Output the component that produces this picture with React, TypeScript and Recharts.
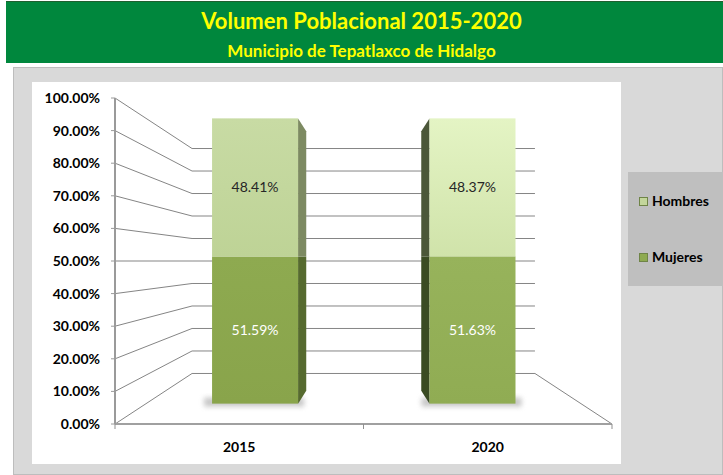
import React from 'react';
import { BarChart, Bar, XAxis, YAxis, CartesianGrid, LabelList, Legend } from 'recharts';

// ---- data ----
const years = ['2015', '2020'];
const mujeres = [0.5159, 0.5163];
const hombres = [0.4841, 0.4837];
const yTicks = [0, 0.1, 0.2, 0.3, 0.4, 0.5, 0.6, 0.7, 0.8, 0.9, 1];
const titleText = 'Volumen Poblacional 2015-2020';
const subtitleText = 'Municipio de Tepatlaxco de Hidalgo';

const data = years.map((y, i) => ({ year: y, Mujeres: mujeres[i], Hombres: hombres[i] }));

// ---- layout / style ----
const W = 723;
const H = 475;
const PLOT = { left: 115, top: 98, right: 612, bottom: 424 };
const VX = (PLOT.left + PLOT.right) / 2;
const VY = (PLOT.top + PLOT.bottom) / 2;
const BACK_K = 0.69;
const BAR_K = 0.875;
const SIDE_KX = 0.875;
const SIDE_KY = 0.91;
const Y_AXIS_W = 80;
const X_AXIS_H = 30;
const BAR_PAD = ((PLOT.right - PLOT.left) * (1 - BAR_K)) / 2;
const barDomain = [0.5 - 0.5 / BAR_K, 0.5 + 0.5 / BAR_K];
const FONT = 'Lato, "Open Sans", sans-serif';

const frontColors: Record<string, [string, string][]> = {
  Hombres: [
    ['#C8DBA4', '#BED396'],
    ['#E4F4C4', '#D0E3AA'],
  ],
  Mujeres: [
    ['#8EAA50', '#89A44B'],
    ['#97B35B', '#90AC53'],
  ],
};
const sideColors: Record<string, string[]> = {
  Hombres: ['#7D8A62', '#4B5739'],
  Mujeres: ['#566A2F', '#3A4B23'],
};
const legendColors: Record<string, string> = { Hombres: '#C3D69B', Mujeres: '#8EAA50' };

const pct = (v: number) => (v * 100).toFixed(2) + '%';

const Bar3D = (props: any) => {
  const { x, y, width, height, series } = props;
  const idx = props.index ?? years.indexOf(props.payload?.year);
  if (width == null || height == null) return null;
  const top = y;
  const bottom = y + height;
  const left = x;
  const right = x + width;
  const edgeX = right < VX ? right : left;
  const proj = (px: number, py: number) => [VX + (px - VX) * SIDE_KX, VY + (py - VY) * SIDE_KY];
  const [ox1, oy1] = proj(edgeX, top);
  const [ox2, oy2] = proj(edgeX, bottom);
  const gid = `g-${series}-${idx}`;
  const [c1, c2] = frontColors[series][idx];
  return (
    <g>
      <defs>
        <linearGradient id={gid} x1="0" y1="0" x2="0" y2="1">
          <stop offset="0%" stopColor={c1} />
          <stop offset="100%" stopColor={c2} />
        </linearGradient>
        <filter id={`blur-${gid}`} x="-50%" y="-50%" width="200%" height="200%">
          <feGaussianBlur stdDeviation="2.5" />
        </filter>
      </defs>
      {series === 'Mujeres' && (
        <rect
          x={left - 8}
          y={bottom - 6}
          width={width + 14}
          height={9}
          fill="#9a9a9a"
          opacity={0.55}
          filter={`url(#blur-${gid})`}
        />
      )}
      <polygon
        points={`${edgeX},${top} ${ox1},${oy1} ${ox2},${oy2} ${edgeX},${bottom}`}
        fill={sideColors[series][idx]}
      />
      <rect x={left} y={top} width={width} height={height} fill={`url(#${gid})`} />
    </g>
  );
};

const renderGridLine = (props: any) => {
  const { x1, x2, y1 } = props;
  const bx1 = VX + (x1 - VX) * BACK_K;
  const bx2 = VX + (x2 - VX) * BACK_K;
  const by = VY + (y1 - VY) * BACK_K;
  let d = `M${x1},${y1} L${bx1},${by} L${bx2},${by}`;
  if (Math.abs(y1 - PLOT.bottom) < 0.5) d += ` L${x2},${y1}`;
  return <path key={`gl-${y1}`} d={d} fill="none" stroke="#858585" strokeWidth={1} />;
};

const XTick = (props: any) => {
  const { x, payload } = props;
  const half =
    payload && payload.offset ? payload.offset : (PLOT.right - PLOT.left) / years.length / 2;
  return (
    <g>
      <line x1={x + half} y1={PLOT.bottom} x2={x + half} y2={PLOT.bottom + 5} stroke="#8F8F8F" />
      {payload.index === 0 && (
        <line x1={x - half} y1={PLOT.bottom} x2={x - half} y2={PLOT.bottom + 5} stroke="#8F8F8F" />
      )}
      <text
        x={x}
        y={PLOT.bottom + 28}
        textAnchor="middle"
        fontFamily={FONT}
        fontWeight={700}
        fontSize={14}
        fill="#000"
      >
        {payload.value}
      </text>
    </g>
  );
};

const renderLegend = (props: any) => {
  const order = ['Hombres', 'Mujeres'];
  const payload = [...(props.payload || [])].sort(
    (a: any, b: any) => order.indexOf(a.value) - order.indexOf(b.value)
  );
  return (
    <div
      style={{
        width: 95,
        height: 114,
        background: '#BFBFBF',
        position: 'relative',
        fontFamily: FONT,
        fontWeight: 700,
        fontSize: 14,
        color: '#000',
      }}
    >
      {payload.map((it: any, i: number) => (
        <div
          key={it.value}
          style={{
            position: 'absolute',
            left: 11,
            top: 20 + i * 56,
            height: 18,
            lineHeight: '18px',
            display: 'flex',
            alignItems: 'center',
            whiteSpace: 'nowrap',
          }}
        >
          <span
            style={{
              display: 'inline-block',
              width: 9,
              height: 9,
              marginRight: 4,
              background: legendColors[it.value] || it.color,
              border: '1px solid #6F8447',
              boxSizing: 'border-box',
            }}
          />
          {it.value}
        </div>
      ))}
    </div>
  );
};

export default function App() {
  return (
    <div style={{ position: 'absolute', left: 0, top: 0, width: W, height: H, background: '#fff', overflow: 'hidden' }}>
      <div
        style={{
          position: 'absolute',
          left: 6,
          top: 1,
          width: W - 6,
          height: 61,
          background: '#00873D',
          borderTop: '1px solid #1F5F2F',
          fontFamily: FONT,
          fontWeight: 700,
          color: '#FFFF00',
          textAlign: 'center',
        }}
      >
        <div style={{ position: 'absolute', left: -6, width: W, top: 5, fontSize: 22, lineHeight: '28px' }}>{titleText}</div>
        <div style={{ position: 'absolute', left: -6, width: W, top: 38, fontSize: 17, lineHeight: '22px' }}>{subtitleText}</div>
      </div>
      <div
        style={{
          position: 'absolute',
          left: 13,
          top: 67,
          width: W - 13,
          height: H - 67,
          background: '#D9D9D9',
          border: '1px solid #BDBDBD',
          boxSizing: 'border-box',
        }}
      />
      <div style={{ position: 'absolute', left: 32, top: 82, width: 589, height: 382, background: '#fff' }} />
      <div style={{ position: 'absolute', left: 0, top: 0 }}>
        <BarChart
          width={W}
          height={H}
          data={data}
          margin={{
            top: PLOT.top,
            left: PLOT.left - Y_AXIS_W,
            right: W - PLOT.right,
            bottom: H - PLOT.bottom - X_AXIS_H,
          }}
        >
          <CartesianGrid xAxisId="front" yAxisId="front" vertical={false} horizontal={renderGridLine} />
          <XAxis
            xAxisId="front"
            dataKey="year"
            height={X_AXIS_H}
            axisLine={{ stroke: '#A0A0A0', strokeWidth: 2 }}
            tickLine={false}
            tick={<XTick />}
            interval={0}
          />
          <XAxis xAxisId="bar" dataKey="year" hide height={0} padding={{ left: BAR_PAD, right: BAR_PAD }} />
          <YAxis
            yAxisId="front"
            width={Y_AXIS_W}
            domain={[0, 1]}
            ticks={yTicks}
            interval={0}
            allowDataOverflow
            tickFormatter={pct}
            axisLine={{ stroke: '#9A9A9A', strokeWidth: 2 }}
            tickLine={{ stroke: '#9A9A9A' }}
            tickSize={4}
            tickMargin={11}
            tick={{ fill: '#000', fontSize: 14, fontWeight: 700, fontFamily: FONT }}
          />
          <YAxis yAxisId="bar" hide width={0} domain={barDomain} allowDataOverflow />
          <Legend
            layout="horizontal"
            verticalAlign="middle"
            align="center"
            content={renderLegend}
            wrapperStyle={{ position: 'absolute', left: 628, top: 172, width: 95, height: 114 }}
          />
          <Bar
            dataKey="Mujeres"
            name="Mujeres"
            stackId="a"
            xAxisId="bar"
            yAxisId="bar"
            barSize={86}
            fill={legendColors.Mujeres}
            shape={<Bar3D series="Mujeres" />}
            isAnimationActive={false}
          >
            <LabelList dataKey="Mujeres" position="center" formatter={pct as any} fill="#FFFFFF" fontSize={14} fontFamily={FONT} />
          </Bar>
          <Bar
            dataKey="Hombres"
            name="Hombres"
            stackId="a"
            xAxisId="bar"
            yAxisId="bar"
            barSize={86}
            fill={legendColors.Hombres}
            shape={<Bar3D series="Hombres" />}
            isAnimationActive={false}
          >
            <LabelList dataKey="Hombres" position="center" formatter={pct as any} fill="#262626" fontSize={14} fontFamily={FONT} />
          </Bar>
        </BarChart>
      </div>
    </div>
  );
}
